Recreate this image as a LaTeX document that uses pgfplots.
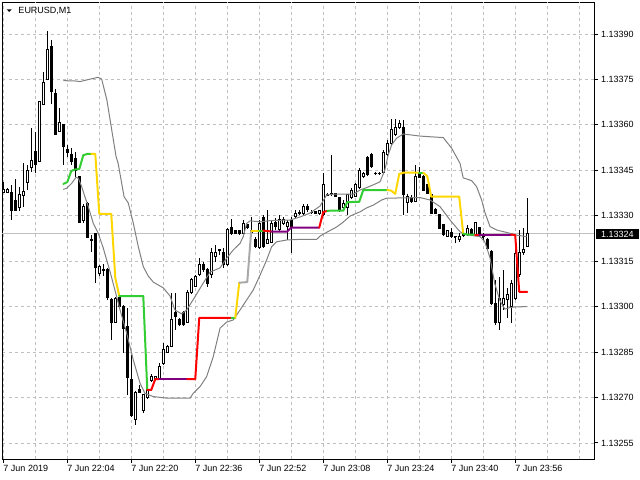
\documentclass[border=0pt]{standalone}
\usepackage{fontspec}
\setmainfont{Liberation Sans}
\usepackage{pgfplots}
\usepackage{pgfplotstable}
\pgfplotsset{compat=1.18}

\definecolor{gridc}{RGB}{192,192,192}
\definecolor{bandc}{RGB}{128,128,128}
\definecolor{pricec}{RGB}{192,192,192}
\definecolor{lgreen}{RGB}{50,205,50}
\definecolor{lyellow}{RGB}{255,215,0}
\definecolor{lred}{RGB}{255,0,0}
\definecolor{lpurple}{RGB}{128,0,128}
\definecolor{lgray}{RGB}{169,169,169}

% price y coordinates: strip the common "1.13" prefix so that the
% small differences keep full precision inside pgfplots
\makeatletter
\def\pricetrafo#1{%
  \edef\pr@in{#1}%
  \expandafter\pr@checkY\pr@in Y\relax\pr@end}
\def\pr@checkY#1Y#2\relax\pr@end{%
  \def\pr@b{#2}%
  \ifx\pr@b\@empty
    \expandafter\pr@plain\pr@in 1.13\relax
  \else
    \pr@lowlevel#2\pr@end
  \fi}
\def\pr@lowlevel#1e#2]#3\pr@end{%
  \ifnum#2=0\relax
    \pr@plain#11.13\relax
  \else
    \let\pgfmathresult\pr@in
  \fi}
\def\pr@plain#11.13#2\relax{%
  \def\pr@pre{#1}%
  \ifx\pr@pre\@empty
    \pr@strip#2\pr@stop
  \else
    \let\pgfmathresult\pr@in
  \fi}
\def\pr@strip#11.13#2\pr@stop{\pr@four#10000\pr@stop}
\def\pr@four#1#2#3#4#5\pr@stop{\def\pgfmathresult{#1#2#3#4}}
\makeatother

% bullish (white) candles: minute index, open, high, low, close
\pgfplotstableread{
t O H L C
0 1.133377 1.133412 1.133376 1.133387
1 1.133378 1.133392 1.133375 1.133388
4 1.133327 1.133396 1.133317 1.133369
5 1.133366 1.133473 1.133330 1.133379
6 1.133410 1.133468 1.133385 1.133451
7 1.133459 1.133589 1.133445 1.133481
9 1.133478 1.133679 1.133477 1.133676
10 1.133668 1.133775 1.133666 1.133740
11 1.133751 1.133910 1.133748 1.133850
14 1.133577 1.133657 1.133576 1.133608
20 1.133283 1.133339 1.133276 1.133332
22 1.133217 1.133237 1.133181 1.133220
24 1.133110 1.133138 1.133101 1.133132
25 1.133119 1.133141 1.133101 1.133121
28 1.132947 1.133032 1.132946 1.133028
33 1.132628 1.132722 1.132610 1.132716
35 1.132657 1.132712 1.132649 1.132709
36 1.132699 1.132748 1.132695 1.132725
37 1.132755 1.132778 1.132751 1.132768
38 1.132758 1.132771 1.132755 1.132768
39 1.132761 1.132814 1.132758 1.132801
40 1.132811 1.132880 1.132808 1.132860
41 1.132848 1.132874 1.132847 1.132870
42 1.132868 1.133045 1.132867 1.132959
46 1.132947 1.133055 1.132946 1.133046
47 1.133045 1.133095 1.133042 1.133088
48 1.133066 1.133105 1.133065 1.133101
49 1.133105 1.133161 1.133101 1.133138
52 1.133105 1.133194 1.133095 1.133180
53 1.133164 1.133204 1.133147 1.133180
54 1.133186 1.133190 1.133171 1.133187
56 1.133138 1.133260 1.133134 1.133253
60 1.133243 1.133286 1.133240 1.133276
62 1.133246 1.133296 1.133243 1.133250
64 1.133194 1.133286 1.133190 1.133276
66 1.133210 1.133319 1.133207 1.133223
67 1.133213 1.133286 1.133210 1.133276
69 1.133253 1.133303 1.133246 1.133286
70 1.133276 1.133296 1.133270 1.133289
71 1.133263 1.133286 1.133220 1.133279
73 1.133296 1.133319 1.133293 1.133309
74 1.133309 1.133319 1.133303 1.133312
75 1.133306 1.133339 1.133303 1.133332
77 1.133311 1.133319 1.133306 1.133312
79 1.133306 1.133319 1.133303 1.133316
80 1.133303 1.133441 1.133299 1.133402
82 1.133369 1.133501 1.133365 1.133372
85 1.133326 1.133352 1.133322 1.133342
86 1.133326 1.133372 1.133303 1.133369
87 1.133359 1.133392 1.133355 1.133385
88 1.133365 1.133408 1.133362 1.133402
89 1.133392 1.133458 1.133388 1.133451
90 1.133428 1.133444 1.133425 1.133441
93 1.133439 1.133444 1.133435 1.133441
94 1.133439 1.133444 1.133435 1.133441
95 1.133444 1.133517 1.133441 1.133510
96 1.133501 1.133550 1.133497 1.133540
97 1.133537 1.133619 1.133534 1.133586
98 1.133567 1.133619 1.133563 1.133590
99 1.133590 1.133616 1.133586 1.133603
101 1.133345 1.133372 1.133309 1.133365
103 1.133346 1.133468 1.133345 1.133429
111 1.133231 1.133253 1.133230 1.133250
113 1.133230 1.133233 1.133210 1.133231
114 1.133223 1.133243 1.133213 1.133233
115 1.133235 1.133243 1.133230 1.133237
116 1.133237 1.133269 1.133233 1.133259
118 1.133237 1.133280 1.133233 1.133277
120 1.133230 1.133243 1.133220 1.133231
124 1.132947 1.133099 1.132923 1.133028
125 1.133006 1.133121 1.132989 1.133028
126 1.133022 1.133062 1.132963 1.133039
127 1.133000 1.133088 1.132946 1.133078
128 1.133028 1.133194 1.133022 1.133176
129 1.133105 1.133253 1.133099 1.133178
130 1.133178 1.133259 1.133171 1.133189
131 1.133198 1.133358 1.133197 1.133240
}\bull

% bearish (black) candles
\pgfplotstableread{
t O H L C
2 1.133377 1.133402 1.133286 1.133317
3 1.133349 1.133421 1.133316 1.133317
8 1.133511 1.133577 1.133440 1.133470
12 1.133860 1.133880 1.133668 1.133709
13 1.133702 1.133718 1.133567 1.133569
15 1.133600 1.133603 1.133468 1.133528
16 1.133520 1.133534 1.133495 1.133508
17 1.133501 1.133523 1.133468 1.133478
18 1.133490 1.133511 1.133429 1.133451
19 1.133431 1.133432 1.133276 1.133278
21 1.133341 1.133346 1.133227 1.133228
23 1.133240 1.133243 1.133078 1.133129
26 1.133121 1.133128 1.133022 1.133029
27 1.133022 1.133029 1.132890 1.132947
29 1.133029 1.133032 1.132996 1.132999
30 1.133000 1.133006 1.132847 1.132929
31 1.132934 1.132996 1.132709 1.132767
32 1.132761 1.132841 1.132636 1.132639
34 1.132728 1.132742 1.132715 1.132718
43 1.132980 1.133045 1.132923 1.132967
44 1.132959 1.132963 1.132936 1.132940
45 1.132980 1.132986 1.132936 1.132940
50 1.133138 1.133147 1.133114 1.133121
51 1.133121 1.133128 1.133065 1.133078
55 1.133180 1.133194 1.133128 1.133138
57 1.133260 1.133289 1.133237 1.133243
58 1.133250 1.133253 1.133240 1.133243
59 1.133250 1.133253 1.133237 1.133240
61 1.133270 1.133273 1.133256 1.133260
63 1.133220 1.133230 1.133194 1.133197
65 1.133293 1.133303 1.133194 1.133197
68 1.133279 1.133293 1.133253 1.133263
72 1.133283 1.133296 1.133177 1.133260
76 1.133332 1.133339 1.133312 1.133319
78 1.133313 1.133316 1.133306 1.133308
81 1.133371 1.133375 1.133365 1.133366
83 1.133372 1.133375 1.133362 1.133365
84 1.133359 1.133362 1.133312 1.133319
91 1.133491 1.133497 1.133431 1.133435
92 1.133501 1.133507 1.133458 1.133461
100 1.133590 1.133616 1.133303 1.133369
102 1.133361 1.133369 1.133342 1.133346
104 1.133438 1.133461 1.133425 1.133427
105 1.133429 1.133435 1.133382 1.133385
106 1.133402 1.133405 1.133372 1.133374
107 1.133369 1.133372 1.133306 1.133308
108 1.133322 1.133326 1.133306 1.133309
109 1.133303 1.133306 1.133256 1.133259
110 1.133270 1.133273 1.133233 1.133237
112 1.133246 1.133260 1.133227 1.133230
117 1.133256 1.133260 1.133240 1.133243
119 1.133260 1.133263 1.133233 1.133237
121 1.133220 1.133227 1.133190 1.133193
122 1.133181 1.133187 1.133006 1.133009
123 1.133009 1.133088 1.132940 1.132946
}\bear

\pgfplotsset{
  candle wick/.style={black, line width=1bp, mark=none},
  candle body/.style={draw=black, line width=1bp, mark=none, line join=miter, line cap=rect},
  mainline/.style={line width=2bp, mark=none, line join=round, line cap=round},
  band/.style={bandc, line width=1bp, mark=none},
}

\newcommand\drawcandles[2]{%
  \pgfplotstablegetrowsof{#1}%
  \pgfmathtruncatemacro\nrows{\pgfplotsretval-1}%
  \pgfplotsforeachungrouped \i in {0,...,\nrows}{%
    \pgfplotstablegetelem{\i}{t}\of#1\let\cT\pgfplotsretval
    \pgfplotstablegetelem{\i}{O}\of#1\let\cO\pgfplotsretval
    \pgfplotstablegetelem{\i}{H}\of#1\let\cH\pgfplotsretval
    \pgfplotstablegetelem{\i}{L}\of#1\let\cL\pgfplotsretval
    \pgfplotstablegetelem{\i}{C}\of#1\let\cC\pgfplotsretval
    \pgfmathsetmacro\cTl{\cT-0.3}%
    \pgfmathsetmacro\cTr{\cT+0.3}%
    \edef\doit{\noexpand\addplot[candle wick] coordinates {(\cT,\cL) (\cT,\cH)};%
      \noexpand\addplot[candle body, fill=#2] coordinates {(\cTl,\cO) (\cTr,\cO) (\cTr,\cC) (\cTl,\cC) (\cTl,\cO)};}%
    \doit
  }%
}

\begin{document}
\begin{tikzpicture}
\useasboundingbox (0,0) rectangle (640bp,480bp);
\begin{axis}[
  at={(2.5bp,21bp)}, anchor=south west,
  scale only axis, width=591.5bp, height=456.5bp,
  xmin=-0.2, xmax=147.7, ymin=1.132497, ymax=1.134004,
  y coord trafo/.code={\pricetrafo{#1}},
  y coord inv trafo/.code={\def\pgfmathresult{#1}},
  clip=false,
  axis line style={black, line width=1bp},
  xtick={0,16,32,48,64,80,96,112,128},
  xticklabels={7 Jun 2019,7 Jun 22:04,7 Jun 22:20,7 Jun 22:36,7 Jun 22:52,7 Jun 23:08,7 Jun 23:24,7 Jun 23:40,7 Jun 23:56},
  extra x ticks={8,24,40,56,72,88,104,120,136,144},
  extra x tick labels={},
  extra x tick style={grid=major, major tick length=0pt},
  ytick={1.132550,1.132700,1.132850,1.133000,1.133150,1.133300,1.133450,1.133600,1.133750,1.133900},
  yticklabels={1.13255,1.13270,1.13285,1.13300,1.13315,1.13330,1.13345,1.13360,1.13375,1.13390},
  grid=major,
  major grid style={gridc, line width=0.8bp, dash pattern=on 3bp off 3bp},
  tick align=outside, major tick length=4bp,
  tick style={black, line width=1bp},
  xtick pos=left, ytick pos=right, yticklabel pos=right,
  tick label style={font=\fontsize{9bp}{10bp}\selectfont, inner sep=0pt},
  xticklabel style={anchor=north west, yshift=-2bp},
  yticklabel style={anchor=west, xshift=3bp},
]
% current price line
\addplot[pricec, line width=1bp, mark=none] coordinates {(-0.2,1.133240) (147.7,1.133240)};

\drawcandles{\bull}{white}
\drawcandles{\bear}{black}

% channel bands
\addplot[band] coordinates {
(15.0,1.133746) (17.9,1.133745) (19.2,1.133743) (21.7,1.133751) (23.7,1.133757)
(24.6,1.133751) (25.9,1.133682) (28.2,1.133495) (28.7,1.133474) (30.2,1.133363)
(31.25,1.133342) (32.5,1.133276) (33.75,1.133198) (35.0,1.133132) (36.25,1.133101)
(37.5,1.133081) (40.0,1.133062) (41.7,1.133035) (42.9,1.132989) (44.6,1.132976)
(45.85,1.132989) (47.9,1.133032) (50.0,1.133078) (51.7,1.133114) (54.2,1.133128)
(55.85,1.133160) (57.5,1.133187) (59.2,1.133209) (60.0,1.133231) (60.85,1.133275)
(61.7,1.133283) (64.2,1.133280) (66.7,1.133284) (71.7,1.133286) (74.2,1.133296)
(76.7,1.133309) (79.2,1.133332) (80.85,1.133369) (82.5,1.133371) (87.5,1.133371)
(89.2,1.133385) (90.85,1.133393) (92.5,1.133402) (94.2,1.133412) (95.4,1.133451)
(96.25,1.133501) (97.1,1.133534) (98.35,1.133556) (100.0,1.133570) (104.2,1.133563)
(110.0,1.133558) (112.1,1.133523) (114.2,1.133473) (115.0,1.133425) (117.1,1.133416)
(118.35,1.133396) (119.6,1.133352) (120.4,1.133312) (121.7,1.133264) (123.35,1.133253)
(126.7,1.133242) (128.35,1.133236) (130.85,1.133231)
};
\addplot[band] coordinates {
(15.0,1.133387) (15.85,1.133391) (17.1,1.133407) (18.2,1.133427) (18.75,1.133424)
(19.6,1.133396) (20.4,1.133363) (21.25,1.133330) (22.5,1.133275) (23.75,1.133242)
(25.0,1.133193) (25.85,1.133154) (26.7,1.133115) (27.9,1.133055) (29.2,1.132989)
(30.85,1.132912) (32.5,1.132824) (34.2,1.132747) (35.4,1.132714) (37.5,1.132703)
(40.85,1.132698) (46.7,1.132698) (47.5,1.132714) (49.2,1.132736) (50.85,1.132769)
(52.5,1.132835) (54.2,1.132929) (55.85,1.132949) (57.5,1.132956) (59.2,1.132989)
(60.85,1.133022) (62.5,1.133055) (64.2,1.133104) (65.85,1.133154) (67.1,1.133198)
(68.35,1.133214) (70.85,1.133220) (74.2,1.133222) (78.35,1.133222) (79.2,1.133233)
(80.4,1.133242) (83.35,1.133263) (85.0,1.133279) (86.7,1.133299) (89.2,1.133313)
(90.85,1.133326) (92.5,1.133335) (94.6,1.133352) (95.85,1.133358) (104.2,1.133360)
(106.7,1.133352) (109.2,1.133330) (111.7,1.133286) (114.2,1.133247) (115.85,1.133237)
(119.2,1.133231) (120.4,1.133214) (121.7,1.133161) (122.9,1.133075) (124.2,1.133019)
(125.4,1.132992) (126.7,1.132997) (127.9,1.132999) (130.85,1.133000)
};

% coloured trend line
\addplot[mainline, lgreen] coordinates {(15,1.133405) (16,1.133411) (17,1.133448) (18,1.133453) (19,1.133454) (20,1.133500) (21,1.133504) (22,1.133504)};
\addplot[mainline, lyellow] coordinates {(22,1.133504) (23,1.133504) (24,1.133306) (25,1.133306) (26,1.133306) (27,1.133306) (28,1.133095) (29,1.133035)};
\addplot[mainline, lgreen] coordinates {(29,1.133035) (35,1.133035) (36,1.132725)};
\addplot[mainline, lred] coordinates {(36,1.132725) (37,1.132725) (38,1.132761) (39,1.132761)};
\addplot[mainline, lpurple] coordinates {(39,1.132761) (46,1.132761)};
\addplot[mainline, lred] coordinates {(46,1.132761) (48,1.132761) (49,1.132963) (57,1.132963)};
\addplot[mainline, lgreen] coordinates {(57,1.132963) (58,1.132963)};
\addplot[mainline, lyellow] coordinates {(58,1.132963) (59,1.133079)};
\addplot[mainline, lgray] coordinates {(59,1.133079) (61,1.133081) (62,1.133251)};
\addplot[mainline, lyellow] coordinates {(62,1.133251) (64,1.133251)};
\addplot[mainline, lgreen] coordinates {(64,1.133251) (65,1.133251)};
\addplot[mainline, lred] coordinates {(65,1.133251) (67,1.133248)};
\addplot[mainline, lpurple] coordinates {(67,1.133248) (71,1.133248) (72,1.133261) (79,1.133261)};
\addplot[mainline, lred] coordinates {(79,1.133261) (80,1.133312) (81,1.133316)};
\addplot[mainline, lgreen] coordinates {(81,1.133316) (82,1.133317) (85,1.133317) (86,1.133345) (89,1.133346) (90,1.133385) (96,1.133385)};
\addplot[mainline, lyellow] coordinates {(96,1.133385) (97,1.133383) (98,1.133372) (99,1.133438) (100,1.133442) (104,1.133442)};
\addplot[mainline, lgreen] coordinates {(104,1.133442) (105,1.133442)};
\addplot[mainline, lyellow] coordinates {(105,1.133442) (106,1.133431) (107,1.133363) (114,1.133363) (115,1.133241)};
\addplot[mainline, lgreen] coordinates {(115,1.133241) (116,1.133238) (118,1.133238)};
\addplot[mainline, lred] coordinates {(118,1.133238) (119,1.133238)};
\addplot[mainline, lpurple] coordinates {(119,1.133238) (127,1.133238)};
\addplot[mainline, lred] coordinates {(127,1.133238) (128,1.133236) (129,1.133049) (131,1.133049)};

% current price label
\node[fill=black, text=white, anchor=west, inner xsep=5bp, inner ysep=2bp,
      font=\fontsize{9bp}{10bp}\selectfont, xshift=2bp] at (rel axis cs:1,0.49303) {1.13324};
\end{axis}
\fill (6.7bp,470.7bp) -- (11.7bp,470.7bp) -- (9.2bp,468bp) -- cycle;
\node[anchor=base west, inner sep=0pt, font=\fontsize{9bp}{10bp}\selectfont] at (18.3bp,466bp) {EURUSD,M1};
\end{tikzpicture}
\end{document}
